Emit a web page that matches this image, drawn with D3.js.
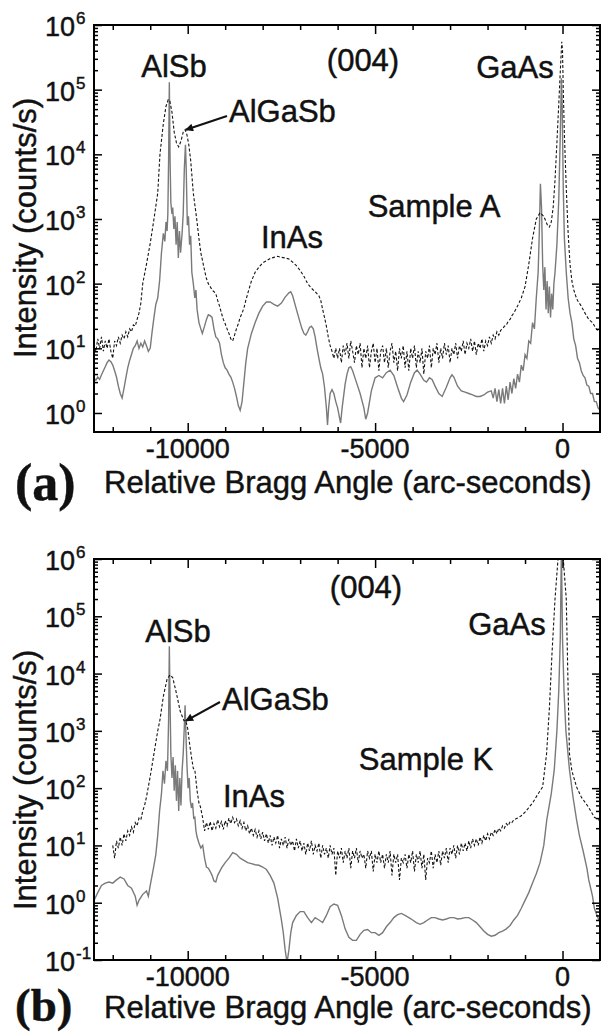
<!DOCTYPE html>
<html>
<head>
<meta charset="utf-8">
<script src="https://cdnjs.cloudflare.com/ajax/libs/d3/7.8.5/d3.min.js"></script>
<style>
body { margin: 0; background: #fff; }
svg text { font-family: "Liberation Sans", Arial, sans-serif; fill: #111; stroke: #111; stroke-width: 0.45px; }
</style>
</head>
<body>
<div id="chart"></div>
<script>
// x = relative Bragg angle (arc-seconds), y = intensity (counts/s)
let xDomain = [-12500, 1000];
let xMajor = [-10000, -5000, 0];
let xMinor = [-12000, -11000, -9000, -8000, -7000, -6000, -4000, -3000, -2000, -1000];
let yExpA = [0, 1, 2, 3, 4, 5, 6];
let yExpB = [-1, 0, 1, 2, 3, 4, 5, 6];
let xTitle = 'Relative Bragg Angle (arc-seconds)';
let yTitle = 'Intensity (counts/s)';

// Sample A, solid grey curve
let aSolid = [
  [-12500,3.5],[-12450,3.2],[-12400,3.6],[-12350,3.3],[-12300,3.9],[-12250,4.5],[-12200,5.2],[-12150,6],[-12100,6.6],[-12050,6.2],
  [-12000,5.5],[-11950,4.5],[-11900,3.6],[-11850,2.6],[-11800,2],[-11750,1.7],[-11700,2.4],[-11650,3.5],[-11600,5],[-11550,6.5],
  [-11500,8],[-11450,10],[-11400,11],[-11350,13],[-11300,10],[-11250,12],[-11200,10.5],[-11150,13],[-11100,11],[-11050,9],
  [-11000,10],[-10950,18],[-10900,30],[-10850,48],[-10800,60],[-10750,110],[-10700,300],[-10650,600],[-10610,450],[-10580,900],
  [-10550,650],[-10530,1200],[-10510,8000],[-10490,130000],[-10470,8000],[-10450,1800],[-10420,1200],[-10400,1500],[-10370,700],[-10340,1100],
  [-10310,400],[-10280,900],[-10250,250],[-10220,650],[-10190,300],[-10150,600],[-10120,1200],[-10090,6000],[-10060,14000],[-10040,6000],
  [-10010,800],[-9980,1100],[-9950,400],[-9920,550],[-9890,150],[-9850,100],[-9810,60],[-9780,80],[-9750,40],[-9700,25],
  [-9650,20],[-9610,17],[-9550,22],[-9500,28],[-9450,33],[-9400,32],[-9350,30],[-9300,20],[-9250,15],[-9200,14],
  [-9150,12],[-9100,8],[-9050,6],[-9000,5],[-8950,4.6],[-8900,4],[-8850,3.6],[-8800,3],[-8750,2.4],[-8700,1.8],
  [-8650,1.3],[-8600,1.1],[-8550,1.5],[-8500,3],[-8450,6],[-8400,10],[-8300,17],[-8200,25],[-8100,35],[-8000,45],
  [-7900,52],[-7800,52],[-7700,48],[-7600,45],[-7500,50],[-7400,62],[-7300,72],[-7250,75],[-7200,65],[-7100,40],
  [-7000,25],[-6950,20],[-6900,17],[-6850,16],[-6800,18],[-6750,21],[-6700,22],[-6650,20],[-6600,15],[-6550,10],
  [-6500,7],[-6450,5],[-6400,4],[-6350,2.5],[-6300,1.2],[-6270,0.65],[-6240,1.2],[-6200,2],[-6150,2.3],[-6100,2],
  [-6050,1.5],[-6000,1.2],[-5950,0.85],[-5920,0.7],[-5880,1.2],[-5800,2.8],[-5750,4],[-5700,5],[-5650,5.2],[-5600,4.5],
  [-5500,3],[-5400,2],[-5300,1.2],[-5250,0.8],[-5200,1],[-5100,2.2],[-5000,3.5],[-4900,3.8],[-4800,3.5],[-4700,4.2],
  [-4600,4.6],[-4500,3.8],[-4400,2.5],[-4300,1.7],[-4240,1.5],[-4150,1.9],[-4050,3],[-3950,4.2],[-3880,4.6],[-3800,4],
  [-3700,3.2],[-3630,3],[-3550,3.5],[-3480,3.3],[-3400,2.6],[-3300,2],[-3210,1.8],[-3100,2.5],[-3000,3.5],[-2950,3.9],
  [-2900,3.6],[-2800,2.6],[-2700,2.2],[-2600,2.1],[-2500,2],[-2400,1.9],[-2300,1.8],[-2200,1.8],[-2100,1.9],[-2000,2.1],
  [-1900,2.2],[-1850,1.7],[-1800,2.4],[-1750,1.5],[-1700,2.3],[-1650,1.4],[-1600,2.4],[-1550,1.4],[-1500,2.6],[-1450,1.6],
  [-1400,3],[-1350,2],[-1300,3.4],[-1250,2.4],[-1200,4],[-1150,3],[-1100,5.5],[-1050,4.5],[-1000,8],[-950,7],
  [-900,13],[-850,12],[-800,25],[-750,20],[-700,60],[-650,150],[-620,600],[-590,3500],[-560,1500],[-530,200],
  [-500,80],[-470,180],[-440,40],[-410,110],[-380,35],[-350,90],[-320,30],[-290,70],[-260,40],[-230,100],
  [-200,150],[-150,400],[-100,2000],[-60,20000],[-30,150000],[-10,60000],[20,3000],[50,500],[100,150],[150,60],
  [200,35],[250,25],[300,14],[350,11],[400,7],[450,6],[500,4.5],[550,3.8],[600,3.5],[650,2.7],
  [700,2.6],[750,2],[800,2],[850,1.5],[900,1.5],[950,1.2],[1000,1.1]
];

// Sample A, dashed black curve
let aDashed = [
  [-12500,12],[-12450,9],[-12400,14],[-12350,10],[-12300,15],[-12250,9],[-12200,13],[-12150,10],[-12100,14],[-12050,9],
  [-12000,7],[-11950,13],[-11900,11],[-11850,15],[-11800,12],[-11750,16],[-11700,14],[-11650,18],[-11600,15],[-11550,20],
  [-11500,18],[-11450,23],[-11400,22],[-11350,28],[-11300,35],[-11250,50],[-11200,100],[-11100,200],[-11000,420],[-10900,1000],
  [-10800,2500],[-10740,10000],[-10650,30000],[-10580,55000],[-10520,70000],[-10480,68000],[-10420,45000],[-10360,22000],[-10300,15000],[-10240,13000],
  [-10180,16000],[-10120,22000],[-10070,24000],[-10020,20000],[-9970,14000],[-9920,8000],[-9850,2500],[-9760,1000],[-9700,500],[-9650,300],
  [-9600,220],[-9550,160],[-9500,120],[-9450,100],[-9400,90],[-9350,80],[-9300,75],[-9250,70],[-9200,55],[-9150,45],
  [-9100,35],[-9050,28],[-9000,24],[-8950,20],[-8900,17],[-8850,14],[-8800,13],[-8750,16],[-8700,20],[-8650,24],
  [-8600,30],[-8550,35],[-8500,42],[-8450,55],[-8400,70],[-8300,110],[-8200,150],[-8100,180],[-8000,210],[-7900,225],
  [-7800,245],[-7700,255],[-7600,265],[-7500,255],[-7400,250],[-7300,240],[-7200,215],[-7100,190],[-7000,160],[-6900,130],
  [-6800,100],[-6700,85],[-6600,75],[-6500,65],[-6450,55],[-6400,40],[-6350,30],[-6300,22],[-6250,15],[-6200,11],
  [-6150,9],[-6100,7],[-6050,10],[-6000,7],[-5950,10],[-5900,6],[-5850,11],[-5800,8],[-5750,12],[-5700,7],
  [-5650,13],[-5600,9],[-5550,6],[-5500,11],[-5450,8],[-5400,12],[-5350,5],[-5300,10],[-5250,7],[-5200,11],
  [-5150,5],[-5100,9],[-5050,12],[-5000,6],[-4950,10],[-4900,4.5],[-4850,9],[-4800,11],[-4750,6],[-4700,10],
  [-4650,5],[-4600,9],[-4550,12],[-4500,6],[-4450,9],[-4400,4.5],[-4350,10],[-4300,7],[-4250,11],[-4200,5],
  [-4150,9],[-4100,4.5],[-4050,10],[-4000,7],[-3950,11],[-3900,5],[-3850,9],[-3800,6],[-3750,10],[-3700,4],
  [-3650,9],[-3600,7],[-3550,11],[-3500,5],[-3450,10],[-3400,8],[-3350,12],[-3300,6],[-3250,10],[-3200,7],
  [-3150,12],[-3100,8],[-3050,11],[-3000,6],[-2950,10],[-2900,8],[-2850,12],[-2800,7],[-2750,11],[-2700,9],
  [-2650,13],[-2600,8],[-2550,12],[-2500,10],[-2450,14],[-2400,9],[-2350,13],[-2300,8],[-2250,12],[-2200,10],
  [-2150,14],[-2100,9],[-2050,13],[-2000,11],[-1950,15],[-1900,12],[-1850,16],[-1800,14],[-1750,18],[-1700,16],
  [-1650,19],[-1600,20],[-1550,22],[-1500,23],[-1450,26],[-1400,28],[-1350,32],[-1300,35],[-1200,45],[-1100,60],
  [-1000,90],[-900,200],[-800,500],[-700,1000],[-600,1250],[-500,1100],[-400,800],[-350,750],[-300,900],[-250,1500],
  [-200,4000],[-150,15000],[-100,60000],[-50,250000],[-20,550000],[0,400000],[20,100000],[50,20000],[100,3000],[150,600],
  [200,200],[250,110],[300,80],[350,65],[400,55],[500,45],[600,35],[700,28],[800,25],[900,20],[1000,18]
];

// Sample K, solid grey curve
let bSolid = [
  [-12500,1.1],[-12400,1.5],[-12300,2],[-12200,2.2],[-12100,2.3],[-12000,2.2],[-11900,2.5],[-11800,2.8],[-11700,2.6],[-11600,2],
  [-11500,1.8],[-11400,1.3],[-11350,0.9],[-11300,1.1],[-11200,1.4],[-11100,1.6],[-11050,1.3],[-11000,2],[-10950,3],[-10900,4.5],
  [-10850,7],[-10800,15],[-10750,40],[-10700,80],[-10660,200],[-10620,120],[-10580,300],[-10540,200],[-10510,1500],[-10490,30000],
  [-10470,3000],[-10450,400],[-10420,150],[-10390,350],[-10360,90],[-10330,250],[-10300,60],[-10270,200],[-10240,40],[-10210,150],
  [-10180,50],[-10150,200],[-10120,400],[-10090,1200],[-10070,2800],[-10050,1000],[-10020,250],[-9990,100],[-9960,150],[-9930,60],
  [-9900,45],[-9870,55],[-9840,30],[-9810,31],[-9780,18],[-9750,14],[-9700,11],[-9650,9],[-9600,10],[-9550,6],
  [-9500,4.2],[-9450,4],[-9400,3.5],[-9350,3],[-9300,2.4],[-9250,2.3],[-9200,3],[-9100,4],[-9000,5],[-8900,6],
  [-8800,7.5],[-8700,7],[-8600,6],[-8500,5.5],[-8400,5],[-8300,4.8],[-8200,4.6],[-8100,4.5],[-8000,4.2],[-7900,3.8],
  [-7800,3],[-7700,2.2],[-7600,1.2],[-7500,0.5],[-7450,0.3],[-7400,0.15],[-7350,0.09],[-7300,0.15],[-7250,0.3],[-7200,0.45],
  [-7100,0.6],[-7000,0.7],[-6900,0.7],[-6800,0.55],[-6700,0.45],[-6600,0.55],[-6500,0.5],[-6400,0.45],[-6300,0.6],[-6200,0.85],
  [-6100,0.95],[-6000,0.9],[-5900,0.6],[-5800,0.35],[-5700,0.25],[-5600,0.22],[-5500,0.22],[-5400,0.28],[-5300,0.33],[-5200,0.34],
  [-5100,0.3],[-5000,0.3],[-4900,0.27],[-4800,0.3],[-4700,0.38],[-4600,0.45],[-4500,0.55],[-4400,0.62],[-4300,0.65],[-4200,0.6],
  [-4100,0.55],[-4000,0.5],[-3900,0.45],[-3800,0.42],[-3700,0.45],[-3600,0.5],[-3500,0.55],[-3400,0.55],[-3300,0.52],[-3200,0.5],
  [-3100,0.52],[-3000,0.55],[-2900,0.55],[-2800,0.52],[-2700,0.53],[-2600,0.55],[-2500,0.55],[-2400,0.5],[-2300,0.45],[-2200,0.38],
  [-2100,0.32],[-2000,0.28],[-1900,0.26],[-1800,0.27],[-1700,0.3],[-1600,0.32],[-1500,0.35],[-1400,0.4],[-1300,0.5],[-1200,0.6],
  [-1100,0.8],[-1000,1.1],[-900,1.5],[-800,2.2],[-700,3.2],[-600,5],[-500,10],[-420,28],[-300,80],[-220,210],
  [-150,1000],[-100,5000],[-60,40000],[-30,1500000],[0,40000],[40,5000],[90,1000],[185,210],[280,70],[375,28],
  [450,15],[550,8],[650,4],[700,2.5],[800,1.3],[850,0.8],[900,0.65],[1000,0.45]
];

// Sample K, dashed black curve
let bDashed = [
  [-12000,10],[-11950,6],[-11900,12],[-11850,9],[-11800,14],[-11750,10],[-11700,16],[-11650,12],[-11600,18],[-11550,15],
  [-11500,21],[-11450,17],[-11400,25],[-11350,22],[-11300,30],[-11250,28],[-11200,40],[-11150,50],[-11100,70],[-11000,160],
  [-10900,400],[-10800,1000],[-10740,1550],[-10650,4000],[-10550,8000],[-10470,9500],[-10400,8500],[-10300,4500],[-10200,2200],[-10100,1500],
  [-10050,1500],[-10000,1100],[-9950,600],[-9900,350],[-9850,220],[-9810,210],[-9750,90],[-9700,55],[-9660,47],[-9600,30],
  [-9550,18],[-9500,25],[-9450,19],[-9400,26],[-9350,18],[-9300,24],[-9250,20],[-9200,28],[-9150,21],[-9100,26],
  [-9050,19],[-9000,27],[-8950,22],[-8900,30],[-8850,24],[-8800,31],[-8750,25],[-8700,29],[-8650,22],[-8600,27],
  [-8550,20],[-8500,25],[-8450,18],[-8400,22],[-8350,16],[-8300,20],[-8250,15],[-8200,19],[-8150,14],[-8100,18],
  [-8050,13],[-8000,17],[-7950,12],[-7900,16],[-7850,11],[-7800,15],[-7750,10],[-7700,14],[-7650,11],[-7600,15],
  [-7550,9],[-7500,13],[-7450,10],[-7400,14],[-7350,9],[-7300,13],[-7250,10],[-7200,12],[-7150,8],[-7100,13],
  [-7050,9],[-7000,12],[-6950,8],[-6900,11],[-6850,7],[-6800,11],[-6750,8],[-6700,12],[-6650,7],[-6600,10],
  [-6550,8],[-6500,11],[-6450,6],[-6400,10],[-6350,7],[-6300,9],[-6250,6],[-6200,10],[-6150,7],[-6100,9],
  [-6050,3],[-6000,8],[-5950,6],[-5900,9],[-5850,5],[-5800,8],[-5750,6],[-5700,9],[-5650,4],[-5600,8],
  [-5550,6],[-5500,9],[-5450,5],[-5400,8],[-5350,6],[-5300,7],[-5250,4],[-5200,8],[-5150,6],[-5100,8],
  [-5050,3.5],[-5000,7],[-4950,5],[-4900,8],[-4850,5],[-4800,7],[-4750,4],[-4700,7],[-4650,5],[-4600,8],
  [-4550,3],[-4500,7],[-4450,5],[-4400,7],[-4350,2.5],[-4300,6],[-4250,5],[-4200,7],[-4150,4],[-4100,7],
  [-4050,5],[-4000,8],[-3950,3.5],[-3900,7],[-3850,5],[-3800,8],[-3750,4],[-3700,7],[-3650,2.5],[-3600,6],
  [-3550,5],[-3500,8],[-3450,4],[-3400,7],[-3350,5],[-3300,8],[-3250,4.5],[-3200,8],[-3150,6],[-3100,9],
  [-3050,5],[-3000,9],[-2950,7],[-2900,10],[-2850,6],[-2800,10],[-2750,7],[-2700,11],[-2650,8],[-2600,11],
  [-2550,8],[-2500,12],[-2450,9],[-2400,13],[-2350,10],[-2300,13],[-2250,10],[-2200,14],[-2150,11],[-2100,15],
  [-2050,12],[-2000,16],[-1950,13],[-1900,17],[-1850,15],[-1800,19],[-1750,16],[-1700,20],[-1650,18],[-1600,22],
  [-1550,20],[-1500,24],[-1450,22],[-1400,26],[-1350,25],[-1300,28],[-1200,30],[-1100,33],[-1000,38],[-800,55],
  [-650,80],[-530,105],[-425,400],[-350,2500],[-280,23000],[-200,200000],[-120,1000000],[-50,1800000],[20,1000000],[100,200000],
  [185,400],[250,200],[375,105],[500,70],[690,47],[850,31],[1000,27]
];

let svg = d3.select('#chart').append('svg')
    .attr('width', 607)
    .attr('height', 1032);

let x = d3.scaleLinear().domain(xDomain).range([94, 600]);

svg.append('defs').append('marker')
    .attr('id', 'arrow')
    .attr('viewBox', '0 0 10 10')
    .attr('refX', 9)
    .attr('refY', 5)
    .attr('markerWidth', 11)
    .attr('markerHeight', 8)
    .attr('markerUnits', 'userSpaceOnUse')
    .attr('orient', 'auto')
    .append('path')
    .attr('d', 'M0,0 L10,5 L0,10 Z')
    .attr('fill', '#111');

function drawPanel (p) {
    let y = d3.scaleLog().domain(p.yDomain).range([p.bottom, p.top]);
    let g = svg.append('g');
    let left = x.range()[0], right = x.range()[1];

    g.append('clipPath').attr('id', 'clip-' + p.letter)
        .append('rect')
        .attr('x', left).attr('y', p.top)
        .attr('width', right - left).attr('height', p.bottom - p.top);

    let line = d3.line()
        .x(d => x(d[0]))
        .y(d => y(d[1]));

    g.append('path')
        .datum(p.solid)
        .attr('d', line)
        .attr('fill', 'none')
        .attr('stroke', '#7a7a7a')
        .attr('stroke-width', 1.4)
        .attr('clip-path', 'url(#clip-' + p.letter + ')');

    g.append('path')
        .datum(p.dashed)
        .attr('d', line)
        .attr('fill', 'none')
        .attr('stroke', '#151515')
        .attr('stroke-width', 1.1)
        .attr('stroke-dasharray', '3,2')
        .attr('clip-path', 'url(#clip-' + p.letter + ')');

    // minor log ticks 2..9 of each decade
    let yMinor = [];
    p.exps.forEach(e => {
        for (let k = 2; k < 10; k++) {
            let v = k * Math.pow(10, e);
            if (v < p.yDomain[1]) yMinor.push(v);
        }
    });
    let yMajor = p.exps.map(e => Math.pow(10, e));

    // ticks point inward on all four sides
    let axes = [
        [d3.axisBottom(x).tickValues(xMinor).tickSize(-5), 'translate(0,' + p.bottom + ')'],
        [d3.axisBottom(x).tickValues(xMajor).tickSize(-9), 'translate(0,' + p.bottom + ')'],
        [d3.axisTop(x).tickValues(xMinor).tickSize(-5), 'translate(0,' + p.top + ')'],
        [d3.axisTop(x).tickValues(xMajor).tickSize(-9), 'translate(0,' + p.top + ')'],
        [d3.axisLeft(y).tickValues(yMinor).tickSize(-4), 'translate(' + left + ',0)'],
        [d3.axisLeft(y).tickValues(yMajor).tickSize(-8), 'translate(' + left + ',0)'],
        [d3.axisRight(y).tickValues(yMinor).tickSize(-4), 'translate(' + right + ',0)'],
        [d3.axisRight(y).tickValues(yMajor).tickSize(-8), 'translate(' + right + ',0)']
    ];
    axes.forEach(a => {
        let ax = g.append('g').attr('transform', a[1]).call(a[0].tickFormat(''));
        ax.select('.domain').remove();
        ax.selectAll('line').attr('stroke', '#000').attr('stroke-width', 1.5);
    });

    g.append('rect')
        .attr('x', left).attr('y', p.top)
        .attr('width', right - left).attr('height', p.bottom - p.top)
        .attr('fill', 'none')
        .attr('stroke', '#000')
        .attr('stroke-width', 2);

    // x tick labels
    g.selectAll('.xlab')
        .data(xMajor)
        .enter().append('text')
        .attr('x', d => x(d))
        .attr('y', p.bottom + 26)
        .attr('text-anchor', 'middle')
        .style('font-size', '27px')
        .text(d => d == 0 ? '0' : '-' + Math.abs(d));

    // y tick labels, 10 with superscript exponent
    p.exps.forEach(e => {
        let yy = y(Math.pow(10, e));
        g.append('text')
            .attr('x', 75).attr('y', yy + 11)
            .attr('text-anchor', 'end')
            .style('font-size', '27px')
            .text('10');
        g.append('text')
            .attr('x', 76).attr('y', yy - 1)
            .style('font-size', '17px')
            .text(e);
    });

    g.append('text')
        .attr('transform', 'translate(36,' + p.ylabY + ') rotate(-90)')
        .attr('text-anchor', 'middle')
        .style('font-size', '31px')
        .text(yTitle);

    g.append('text')
        .attr('x', 104).attr('y', p.titleY)
        .style('font-size', '31px')
        .text(xTitle);

    g.append('text')
        .attr('x', 15).attr('y', p.letterY)
        .style('font-family', '"Liberation Serif", "Times New Roman", serif')
        .style('font-weight', 'bold')
        .style('font-size', p.letterSize + 'px')
        .text('(' + p.letter + ')');

    // peak annotations
    p.notes.forEach(n => {
        g.append('text')
            .attr('x', n[1]).attr('y', n[2])
            .attr('text-anchor', n[3])
            .style('font-size', '31px')
            .text(n[0]);
    });

    g.append('line')
        .attr('x1', p.arrowFrom[0]).attr('y1', p.arrowFrom[1])
        .attr('x2', x(p.arrowTo[0])).attr('y2', y(p.arrowTo[1]))
        .attr('stroke', '#111')
        .attr('stroke-width', 2)
        .attr('marker-end', 'url(#arrow)');
}

drawPanel({
    letter: 'a', top: 25, bottom: 432, yDomain: [0.508, 1e6], exps: yExpA,
    solid: aSolid, dashed: aDashed, ylabY: 228, titleY: 493, letterY: 500, letterSize: 52,
    notes: [['AlSb', 174, 77, 'middle'], ['(004)', 363, 71, 'middle'], ['GaAs', 515, 78, 'middle'],
            ['AlGaSb', 229, 122, 'start'], ['Sample A', 434, 217, 'middle'], ['InAs', 292, 248, 'middle']],
    arrowFrom: [227, 116], arrowTo: [-10050, 24000]
});

drawPanel({
    letter: 'b', top: 559, bottom: 960, yDomain: [0.1, 1e6], exps: yExpB,
    solid: bSolid, dashed: bDashed, ylabY: 780, titleY: 1018, letterY: 1021, letterSize: 47,
    notes: [['(004)', 366, 598, 'middle'], ['GaAs', 507, 635, 'middle'], ['AlSb', 178, 642, 'middle'],
            ['AlGaSb', 222, 710, 'start'], ['Sample K', 426, 770, 'middle'], ['InAs', 254, 807, 'middle']],
    arrowFrom: [220, 702], arrowTo: [-10050, 1500]
});
</script>
</body>
</html>
